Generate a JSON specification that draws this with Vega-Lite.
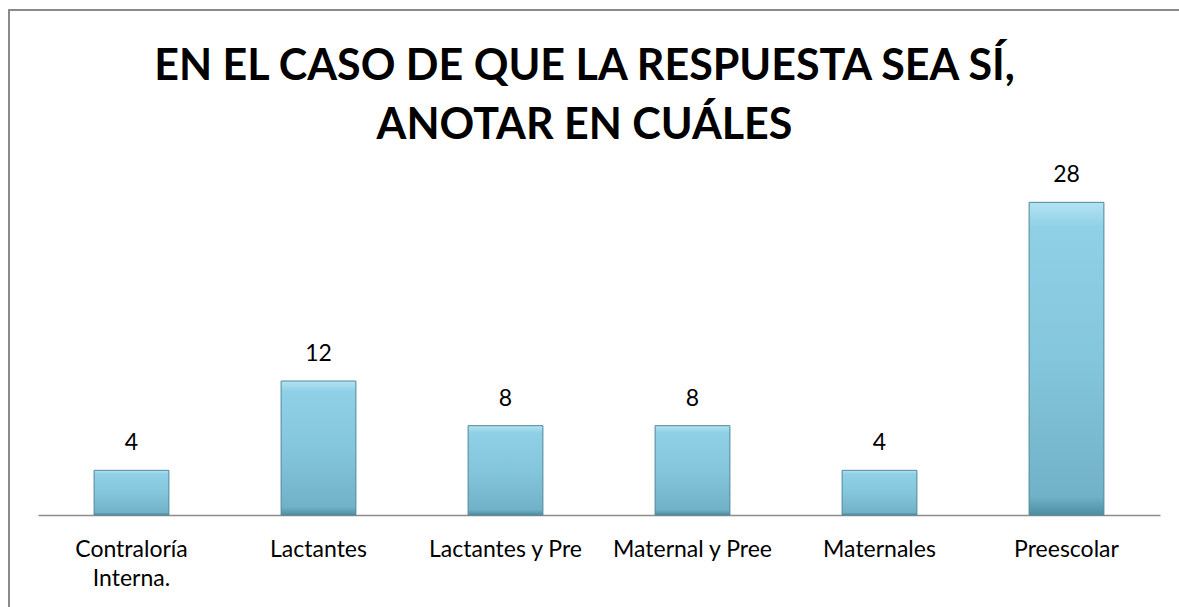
{
  "$schema": "https://vega.github.io/schema/vega-lite/v6.json",
  "width": 1171,
  "height": 598,
  "autosize": "none",
  "padding": {"left": 9, "top": 10, "right": 0, "bottom": 0},
  "background": "white",
  "title": {
    "text": ["EN EL CASO DE QUE LA RESPUESTA SEA SÍ,", "ANOTAR EN CUÁLES"],
    "font": "Lato",
    "fontSize": 43,
    "fontWeight": "bold",
    "color": "black",
    "anchor": "middle",
    "frame": "group",
    "lineHeight": 59,
    "offset": -138,
    "dx": -10
  },
  "config": {
    "view": {"stroke": "#8a8a8a", "strokeWidth": 2}
  },
  "data": {
    "values": [
      {"categoria": "Contraloría Interna.", "valor": 4},
      {"categoria": "Lactantes", "valor": 12},
      {"categoria": "Lactantes y Pre", "valor": 8},
      {"categoria": "Maternal y Pree", "valor": 8},
      {"categoria": "Maternales", "valor": 4},
      {"categoria": "Preescolar", "valor": 28}
    ]
  },
  "encoding": {
    "x": {
      "field": "categoria",
      "type": "nominal",
      "sort": null,
      "scale": {"range": [29, 1151], "paddingInner": 0.6, "paddingOuter": 0.3},
      "axis": {
        "title": null,
        "orient": "bottom",
        "offset": -93,
        "labelAngle": 0,
        "labelFont": "Lato",
        "labelFontSize": 23,
        "labelColor": "black",
        "labelPadding": 23,
        "labelLineHeight": 29,
        "labelExpr": "datum.label == 'Contraloría Interna.' ? ['Contraloría', 'Interna.'] : datum.label",
        "ticks": false,
        "domainColor": "#8c8c8c",
        "domainWidth": 1.5,
        "grid": false
      }
    },
    "y": {
      "field": "valor",
      "type": "quantitative",
      "scale": {"domain": [0, 30], "range": [505, 170]},
      "axis": null
    }
  },
  "layer": [
    {
      "mark": {
        "type": "bar",
        "stroke": "#4f8799",
        "strokeWidth": 1,
        "fill": {
          "x1": 0, "y1": 0, "x2": 0, "y2": 1,
          "gradient": "linear",
          "stops": [
            {"offset": 0, "color": "#b3e3f2"},
            {"offset": 0.08, "color": "#8fd0e6"},
            {"offset": 0.5, "color": "#84c6dc"},
            {"offset": 0.94, "color": "#71b2c8"},
            {"offset": 1, "color": "#4e8ea3"}
          ]
        }
      }
    },
    {
      "mark": {
        "type": "text",
        "font": "Lato",
        "fontSize": 23,
        "color": "black",
        "baseline": "alphabetic",
        "dy": -20
      },
      "encoding": {
        "text": {"field": "valor", "type": "quantitative"}
      }
    }
  ]
}
